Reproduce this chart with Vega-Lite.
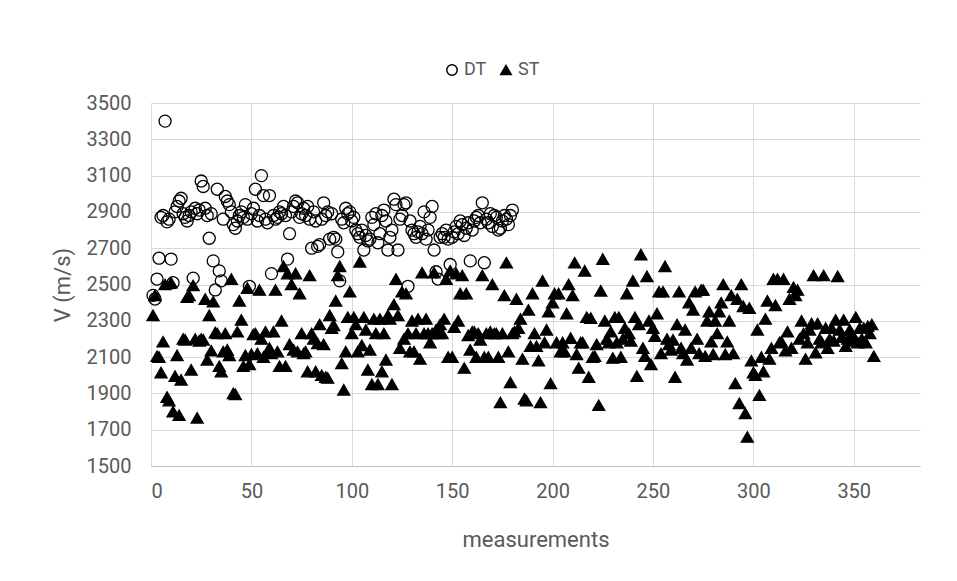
{
  "$schema": "https://vega.github.io/schema/vega-lite/v6.json",
  "width": 769,
  "height": 363,
  "autosize": {"type": "none"},
  "padding": {"left": 151, "top": 103, "right": 37, "bottom": 115},
  "background": "white",
  "config": {
    "view": {"stroke": null},
    "font": "Roboto",
    "axis": {"labelFont": "Roboto", "titleFont": "Roboto", "labelColor": "#595959", "titleColor": "#595959", "labelFontSize": 20, "titleFontSize": 22, "titleFontWeight": "normal", "gridColor": "#d9d9d9", "gridWidth": 1, "ticks": false},
    "legend": {"labelFont": "Roboto", "labelFontSize": 18, "labelColor": "#595959"}
  },
  "datasets": {
    "pts": [
{"s":"DT","i":1,"v":2440},{"s":"DT","i":2,"v":2420},{"s":"DT","i":3,"v":2530},{"s":"DT","i":4,"v":2645},{"s":"DT","i":5,"v":2870},{"s":"DT","i":6,"v":2880},{"s":"DT","i":7,"v":3400},{"s":"DT","i":8,"v":2845},{"s":"DT","i":9,"v":2860},{"s":"DT","i":10,"v":2640},
{"s":"DT","i":11,"v":2510},{"s":"DT","i":12,"v":2900},{"s":"DT","i":13,"v":2930},{"s":"DT","i":14,"v":2960},{"s":"DT","i":15,"v":2975},{"s":"DT","i":16,"v":2890},{"s":"DT","i":17,"v":2870},{"s":"DT","i":18,"v":2850},{"s":"DT","i":19,"v":2880},{"s":"DT","i":20,"v":2900},
{"s":"DT","i":21,"v":2535},{"s":"DT","i":22,"v":2920},{"s":"DT","i":23,"v":2890},{"s":"DT","i":24,"v":2910},{"s":"DT","i":25,"v":3070},{"s":"DT","i":26,"v":3040},{"s":"DT","i":27,"v":2920},{"s":"DT","i":28,"v":2880},{"s":"DT","i":29,"v":2755},{"s":"DT","i":30,"v":2890},
{"s":"DT","i":31,"v":2630},{"s":"DT","i":32,"v":2470},{"s":"DT","i":33,"v":3025},{"s":"DT","i":34,"v":2575},{"s":"DT","i":35,"v":2520},{"s":"DT","i":36,"v":2860},{"s":"DT","i":37,"v":2985},{"s":"DT","i":38,"v":2960},{"s":"DT","i":39,"v":2940},{"s":"DT","i":40,"v":2900},
{"s":"DT","i":41,"v":2830},{"s":"DT","i":42,"v":2810},{"s":"DT","i":43,"v":2850},{"s":"DT","i":44,"v":2880},{"s":"DT","i":45,"v":2900},{"s":"DT","i":46,"v":2870},{"s":"DT","i":47,"v":2940},{"s":"DT","i":48,"v":2860},{"s":"DT","i":49,"v":2490},{"s":"DT","i":50,"v":2890},
{"s":"DT","i":51,"v":2920},{"s":"DT","i":52,"v":3025},{"s":"DT","i":53,"v":2850},{"s":"DT","i":54,"v":2880},{"s":"DT","i":55,"v":3100},{"s":"DT","i":56,"v":2990},{"s":"DT","i":57,"v":2860},{"s":"DT","i":58,"v":2840},{"s":"DT","i":59,"v":2990},{"s":"DT","i":60,"v":2560},
{"s":"DT","i":61,"v":2880},{"s":"DT","i":62,"v":2860},{"s":"DT","i":63,"v":2870},{"s":"DT","i":64,"v":2900},{"s":"DT","i":65,"v":2890},{"s":"DT","i":66,"v":2930},{"s":"DT","i":67,"v":2880},{"s":"DT","i":68,"v":2640},{"s":"DT","i":69,"v":2780},{"s":"DT","i":70,"v":2900},
{"s":"DT","i":71,"v":2930},{"s":"DT","i":72,"v":2960},{"s":"DT","i":73,"v":2950},{"s":"DT","i":74,"v":2870},{"s":"DT","i":75,"v":2890},{"s":"DT","i":76,"v":2920},{"s":"DT","i":77,"v":2880},{"s":"DT","i":78,"v":2930},{"s":"DT","i":79,"v":2860},{"s":"DT","i":80,"v":2700},
{"s":"DT","i":81,"v":2900},{"s":"DT","i":82,"v":2850},{"s":"DT","i":83,"v":2710},{"s":"DT","i":84,"v":2720},{"s":"DT","i":85,"v":2860},{"s":"DT","i":86,"v":2950},{"s":"DT","i":87,"v":2880},{"s":"DT","i":88,"v":2900},{"s":"DT","i":89,"v":2750},{"s":"DT","i":90,"v":2890},
{"s":"DT","i":91,"v":2760},{"s":"DT","i":92,"v":2750},{"s":"DT","i":93,"v":2680},{"s":"DT","i":94,"v":2520},{"s":"DT","i":95,"v":2860},{"s":"DT","i":96,"v":2840},{"s":"DT","i":97,"v":2920},{"s":"DT","i":98,"v":2890},{"s":"DT","i":99,"v":2900},{"s":"DT","i":100,"v":2850},
{"s":"DT","i":101,"v":2870},{"s":"DT","i":102,"v":2800},{"s":"DT","i":103,"v":2780},{"s":"DT","i":104,"v":2760},{"s":"DT","i":105,"v":2800},{"s":"DT","i":106,"v":2690},{"s":"DT","i":107,"v":2770},{"s":"DT","i":108,"v":2740},{"s":"DT","i":109,"v":2750},{"s":"DT","i":110,"v":2870},
{"s":"DT","i":111,"v":2830},{"s":"DT","i":112,"v":2890},{"s":"DT","i":113,"v":2730},{"s":"DT","i":114,"v":2780},{"s":"DT","i":115,"v":2880},{"s":"DT","i":116,"v":2910},{"s":"DT","i":117,"v":2850},{"s":"DT","i":118,"v":2690},{"s":"DT","i":119,"v":2760},{"s":"DT","i":120,"v":2800},
{"s":"DT","i":121,"v":2970},{"s":"DT","i":122,"v":2940},{"s":"DT","i":123,"v":2690},{"s":"DT","i":124,"v":2860},{"s":"DT","i":125,"v":2880},{"s":"DT","i":126,"v":2940},{"s":"DT","i":127,"v":2950},{"s":"DT","i":128,"v":2490},{"s":"DT","i":129,"v":2850},{"s":"DT","i":130,"v":2800},
{"s":"DT","i":131,"v":2780},{"s":"DT","i":132,"v":2760},{"s":"DT","i":133,"v":2790},{"s":"DT","i":134,"v":2820},{"s":"DT","i":135,"v":2780},{"s":"DT","i":136,"v":2900},{"s":"DT","i":137,"v":2750},{"s":"DT","i":138,"v":2800},{"s":"DT","i":139,"v":2870},{"s":"DT","i":140,"v":2930},
{"s":"DT","i":141,"v":2690},{"s":"DT","i":142,"v":2570},{"s":"DT","i":143,"v":2530},{"s":"DT","i":144,"v":2760},{"s":"DT","i":145,"v":2780},{"s":"DT","i":146,"v":2760},{"s":"DT","i":147,"v":2800},{"s":"DT","i":148,"v":2750},{"s":"DT","i":149,"v":2610},{"s":"DT","i":150,"v":2760},
{"s":"DT","i":151,"v":2790},{"s":"DT","i":152,"v":2820},{"s":"DT","i":153,"v":2780},{"s":"DT","i":154,"v":2850},{"s":"DT","i":155,"v":2830},{"s":"DT","i":156,"v":2770},{"s":"DT","i":157,"v":2810},{"s":"DT","i":158,"v":2840},{"s":"DT","i":159,"v":2630},{"s":"DT","i":160,"v":2800},
{"s":"DT","i":161,"v":2850},{"s":"DT","i":162,"v":2870},{"s":"DT","i":163,"v":2880},{"s":"DT","i":164,"v":2840},{"s":"DT","i":165,"v":2950},{"s":"DT","i":166,"v":2620},{"s":"DT","i":167,"v":2860},{"s":"DT","i":168,"v":2840},{"s":"DT","i":169,"v":2890},{"s":"DT","i":170,"v":2820},
{"s":"DT","i":171,"v":2880},{"s":"DT","i":172,"v":2870},{"s":"DT","i":173,"v":2800},{"s":"DT","i":174,"v":2810},{"s":"DT","i":175,"v":2850},{"s":"DT","i":176,"v":2880},{"s":"DT","i":177,"v":2860},{"s":"DT","i":178,"v":2830},{"s":"DT","i":179,"v":2880},{"s":"DT","i":180,"v":2910},
{"s":"ST","i":1,"v":2330},{"s":"ST","i":2,"v":2440},{"s":"ST","i":3,"v":2105},{"s":"ST","i":4,"v":2100},{"s":"ST","i":5,"v":2015},{"s":"ST","i":6,"v":2185},{"s":"ST","i":7,"v":2500},{"s":"ST","i":8,"v":1880},{"s":"ST","i":9,"v":1860},{"s":"ST","i":10,"v":2510},
{"s":"ST","i":11,"v":1800},{"s":"ST","i":12,"v":1995},{"s":"ST","i":13,"v":2110},{"s":"ST","i":14,"v":1780},{"s":"ST","i":15,"v":1975},{"s":"ST","i":16,"v":2200},{"s":"ST","i":17,"v":2195},{"s":"ST","i":18,"v":2430},{"s":"ST","i":19,"v":2440},{"s":"ST","i":20,"v":2030},
{"s":"ST","i":21,"v":2495},{"s":"ST","i":22,"v":2200},{"s":"ST","i":23,"v":1765},{"s":"ST","i":24,"v":2190},{"s":"ST","i":25,"v":2200},{"s":"ST","i":26,"v":2195},{"s":"ST","i":27,"v":2420},{"s":"ST","i":28,"v":2085},{"s":"ST","i":29,"v":2330},{"s":"ST","i":30,"v":2135},
{"s":"ST","i":31,"v":2405},{"s":"ST","i":32,"v":2235},{"s":"ST","i":33,"v":2230},{"s":"ST","i":34,"v":2050},{"s":"ST","i":35,"v":2020},{"s":"ST","i":36,"v":2130},{"s":"ST","i":37,"v":2230},{"s":"ST","i":38,"v":2140},{"s":"ST","i":39,"v":2110},{"s":"ST","i":40,"v":2530},
{"s":"ST","i":41,"v":1900},{"s":"ST","i":42,"v":1895},{"s":"ST","i":43,"v":2240},{"s":"ST","i":44,"v":2410},{"s":"ST","i":45,"v":2305},{"s":"ST","i":46,"v":2050},{"s":"ST","i":47,"v":2110},{"s":"ST","i":48,"v":2480},{"s":"ST","i":49,"v":2060},{"s":"ST","i":50,"v":2115},
{"s":"ST","i":51,"v":2225},{"s":"ST","i":52,"v":2230},{"s":"ST","i":53,"v":2120},{"s":"ST","i":54,"v":2470},{"s":"ST","i":55,"v":2200},{"s":"ST","i":56,"v":2100},{"s":"ST","i":57,"v":2240},{"s":"ST","i":58,"v":2130},{"s":"ST","i":59,"v":2150},{"s":"ST","i":60,"v":2120},
{"s":"ST","i":61,"v":2240},{"s":"ST","i":62,"v":2470},{"s":"ST","i":63,"v":2130},{"s":"ST","i":64,"v":2050},{"s":"ST","i":65,"v":2300},{"s":"ST","i":66,"v":2600},{"s":"ST","i":67,"v":2050},{"s":"ST","i":68,"v":2560},{"s":"ST","i":69,"v":2170},{"s":"ST","i":70,"v":2500},
{"s":"ST","i":71,"v":2140},{"s":"ST","i":72,"v":2560},{"s":"ST","i":73,"v":2130},{"s":"ST","i":74,"v":2450},{"s":"ST","i":75,"v":2230},{"s":"ST","i":76,"v":2120},{"s":"ST","i":77,"v":2130},{"s":"ST","i":78,"v":2020},{"s":"ST","i":79,"v":2550},{"s":"ST","i":80,"v":2230},
{"s":"ST","i":81,"v":2200},{"s":"ST","i":82,"v":2020},{"s":"ST","i":83,"v":2175},{"s":"ST","i":84,"v":2280},{"s":"ST","i":85,"v":2000},{"s":"ST","i":86,"v":2170},{"s":"ST","i":87,"v":1990},{"s":"ST","i":88,"v":1985},{"s":"ST","i":89,"v":2330},{"s":"ST","i":90,"v":2260},
{"s":"ST","i":91,"v":2275},{"s":"ST","i":92,"v":2410},{"s":"ST","i":93,"v":2550},{"s":"ST","i":94,"v":2600},{"s":"ST","i":95,"v":2065},{"s":"ST","i":96,"v":1920},{"s":"ST","i":97,"v":2130},{"s":"ST","i":98,"v":2320},{"s":"ST","i":99,"v":2460},{"s":"ST","i":100,"v":2230},
{"s":"ST","i":101,"v":2320},{"s":"ST","i":102,"v":2280},{"s":"ST","i":103,"v":2130},{"s":"ST","i":104,"v":2625},{"s":"ST","i":105,"v":2165},{"s":"ST","i":106,"v":2320},{"s":"ST","i":107,"v":2250},{"s":"ST","i":108,"v":2030},{"s":"ST","i":109,"v":2140},{"s":"ST","i":110,"v":1950},
{"s":"ST","i":111,"v":2310},{"s":"ST","i":112,"v":2230},{"s":"ST","i":113,"v":1950},{"s":"ST","i":114,"v":2310},{"s":"ST","i":115,"v":2020},{"s":"ST","i":116,"v":2230},{"s":"ST","i":117,"v":2085},{"s":"ST","i":118,"v":2330},{"s":"ST","i":119,"v":2310},{"s":"ST","i":120,"v":1950},
{"s":"ST","i":121,"v":2390},{"s":"ST","i":122,"v":2530},{"s":"ST","i":123,"v":2330},{"s":"ST","i":124,"v":2150},{"s":"ST","i":125,"v":2460},{"s":"ST","i":126,"v":2200},{"s":"ST","i":127,"v":2450},{"s":"ST","i":128,"v":2230},{"s":"ST","i":129,"v":2130},{"s":"ST","i":130,"v":2300},
{"s":"ST","i":131,"v":2130},{"s":"ST","i":132,"v":2230},{"s":"ST","i":133,"v":2310},{"s":"ST","i":134,"v":2090},{"s":"ST","i":135,"v":2565},{"s":"ST","i":136,"v":2230},{"s":"ST","i":137,"v":2310},{"s":"ST","i":138,"v":2230},{"s":"ST","i":139,"v":2180},{"s":"ST","i":140,"v":2230},
{"s":"ST","i":141,"v":2565},{"s":"ST","i":142,"v":2250},{"s":"ST","i":143,"v":2230},{"s":"ST","i":144,"v":2280},{"s":"ST","i":145,"v":2230},{"s":"ST","i":146,"v":2310},{"s":"ST","i":147,"v":2530},{"s":"ST","i":148,"v":2100},{"s":"ST","i":149,"v":2575},{"s":"ST","i":150,"v":2100},
{"s":"ST","i":151,"v":2265},{"s":"ST","i":152,"v":2560},{"s":"ST","i":153,"v":2300},{"s":"ST","i":154,"v":2450},{"s":"ST","i":155,"v":2550},{"s":"ST","i":156,"v":2040},{"s":"ST","i":157,"v":2450},{"s":"ST","i":158,"v":2220},{"s":"ST","i":159,"v":2140},{"s":"ST","i":160,"v":2240},
{"s":"ST","i":161,"v":2240},{"s":"ST","i":162,"v":2100},{"s":"ST","i":163,"v":2230},{"s":"ST","i":164,"v":2195},{"s":"ST","i":165,"v":2550},{"s":"ST","i":166,"v":2100},{"s":"ST","i":167,"v":2230},{"s":"ST","i":168,"v":2100},{"s":"ST","i":169,"v":2240},{"s":"ST","i":170,"v":2500},
{"s":"ST","i":171,"v":2230},{"s":"ST","i":172,"v":2230},{"s":"ST","i":173,"v":2100},{"s":"ST","i":174,"v":1850},{"s":"ST","i":175,"v":2230},{"s":"ST","i":176,"v":2440},{"s":"ST","i":177,"v":2620},{"s":"ST","i":178,"v":2130},{"s":"ST","i":179,"v":1960},{"s":"ST","i":180,"v":2230},
{"s":"ST","i":181,"v":2240},{"s":"ST","i":182,"v":2420},{"s":"ST","i":183,"v":2260},{"s":"ST","i":184,"v":2310},{"s":"ST","i":185,"v":2090},{"s":"ST","i":186,"v":1870},{"s":"ST","i":187,"v":1860},{"s":"ST","i":188,"v":2360},{"s":"ST","i":189,"v":2160},{"s":"ST","i":190,"v":2450},
{"s":"ST","i":191,"v":2230},{"s":"ST","i":192,"v":2160},{"s":"ST","i":193,"v":2080},{"s":"ST","i":194,"v":1850},{"s":"ST","i":195,"v":2520},{"s":"ST","i":196,"v":2180},{"s":"ST","i":197,"v":2250},{"s":"ST","i":198,"v":2350},{"s":"ST","i":199,"v":1955},{"s":"ST","i":200,"v":2400},
{"s":"ST","i":201,"v":2450},{"s":"ST","i":202,"v":2180},{"s":"ST","i":203,"v":2450},{"s":"ST","i":204,"v":2130},{"s":"ST","i":205,"v":2180},{"s":"ST","i":206,"v":2130},{"s":"ST","i":207,"v":2340},{"s":"ST","i":208,"v":2500},{"s":"ST","i":209,"v":2205},{"s":"ST","i":210,"v":2440},
{"s":"ST","i":211,"v":2620},{"s":"ST","i":212,"v":2115},{"s":"ST","i":213,"v":2040},{"s":"ST","i":214,"v":2180},{"s":"ST","i":215,"v":2180},{"s":"ST","i":216,"v":2575},{"s":"ST","i":217,"v":2320},{"s":"ST","i":218,"v":1990},{"s":"ST","i":219,"v":2315},{"s":"ST","i":220,"v":2100},
{"s":"ST","i":221,"v":2105},{"s":"ST","i":222,"v":2170},{"s":"ST","i":223,"v":1835},{"s":"ST","i":224,"v":2465},{"s":"ST","i":225,"v":2640},{"s":"ST","i":226,"v":2300},{"s":"ST","i":227,"v":2200},{"s":"ST","i":228,"v":2180},{"s":"ST","i":229,"v":2240},{"s":"ST","i":230,"v":2095},
{"s":"ST","i":231,"v":2320},{"s":"ST","i":232,"v":2180},{"s":"ST","i":233,"v":2320},{"s":"ST","i":234,"v":2100},{"s":"ST","i":235,"v":2200},{"s":"ST","i":236,"v":2260},{"s":"ST","i":237,"v":2450},{"s":"ST","i":238,"v":2230},{"s":"ST","i":239,"v":2190},{"s":"ST","i":240,"v":2520},
{"s":"ST","i":241,"v":2320},{"s":"ST","i":242,"v":1995},{"s":"ST","i":243,"v":2280},{"s":"ST","i":244,"v":2665},{"s":"ST","i":245,"v":2150},{"s":"ST","i":246,"v":2105},{"s":"ST","i":247,"v":2545},{"s":"ST","i":248,"v":2300},{"s":"ST","i":249,"v":2060},{"s":"ST","i":250,"v":2260},
{"s":"ST","i":251,"v":2215},{"s":"ST","i":252,"v":2340},{"s":"ST","i":253,"v":2460},{"s":"ST","i":254,"v":2120},{"s":"ST","i":255,"v":2460},{"s":"ST","i":256,"v":2600},{"s":"ST","i":257,"v":2200},{"s":"ST","i":258,"v":2170},{"s":"ST","i":259,"v":2140},{"s":"ST","i":260,"v":2195},
{"s":"ST","i":261,"v":1990},{"s":"ST","i":262,"v":2280},{"s":"ST","i":263,"v":2460},{"s":"ST","i":264,"v":2150},{"s":"ST","i":265,"v":2120},{"s":"ST","i":266,"v":2250},{"s":"ST","i":267,"v":2085},{"s":"ST","i":268,"v":2400},{"s":"ST","i":269,"v":2150},{"s":"ST","i":270,"v":2360},
{"s":"ST","i":271,"v":2460},{"s":"ST","i":272,"v":2200},{"s":"ST","i":273,"v":2120},{"s":"ST","i":274,"v":2470},{"s":"ST","i":275,"v":2470},{"s":"ST","i":276,"v":2105},{"s":"ST","i":277,"v":2300},{"s":"ST","i":278,"v":2350},{"s":"ST","i":279,"v":2185},{"s":"ST","i":280,"v":2115},
{"s":"ST","i":281,"v":2300},{"s":"ST","i":282,"v":2230},{"s":"ST","i":283,"v":2350},{"s":"ST","i":284,"v":2400},{"s":"ST","i":285,"v":2500},{"s":"ST","i":286,"v":2115},{"s":"ST","i":287,"v":2185},{"s":"ST","i":288,"v":2300},{"s":"ST","i":289,"v":2440},{"s":"ST","i":290,"v":2120},
{"s":"ST","i":291,"v":1955},{"s":"ST","i":292,"v":2420},{"s":"ST","i":293,"v":1845},{"s":"ST","i":294,"v":2500},{"s":"ST","i":295,"v":2380},{"s":"ST","i":296,"v":1790},{"s":"ST","i":297,"v":1660},{"s":"ST","i":298,"v":2370},{"s":"ST","i":299,"v":2080},{"s":"ST","i":300,"v":2015},
{"s":"ST","i":301,"v":2000},{"s":"ST","i":302,"v":2250},{"s":"ST","i":303,"v":1890},{"s":"ST","i":304,"v":2100},{"s":"ST","i":305,"v":2020},{"s":"ST","i":306,"v":2310},{"s":"ST","i":307,"v":2410},{"s":"ST","i":308,"v":2090},{"s":"ST","i":309,"v":2150},{"s":"ST","i":310,"v":2530},
{"s":"ST","i":311,"v":2385},{"s":"ST","i":312,"v":2530},{"s":"ST","i":313,"v":2180},{"s":"ST","i":314,"v":2185},{"s":"ST","i":315,"v":2530},{"s":"ST","i":316,"v":2135},{"s":"ST","i":317,"v":2240},{"s":"ST","i":318,"v":2420},{"s":"ST","i":319,"v":2150},{"s":"ST","i":320,"v":2485},
{"s":"ST","i":321,"v":2440},{"s":"ST","i":322,"v":2470},{"s":"ST","i":323,"v":2200},{"s":"ST","i":324,"v":2300},{"s":"ST","i":325,"v":2230},{"s":"ST","i":326,"v":2090},{"s":"ST","i":327,"v":2180},{"s":"ST","i":328,"v":2250},{"s":"ST","i":329,"v":2285},{"s":"ST","i":330,"v":2550},
{"s":"ST","i":331,"v":2125},{"s":"ST","i":332,"v":2285},{"s":"ST","i":333,"v":2200},{"s":"ST","i":334,"v":2180},{"s":"ST","i":335,"v":2550},{"s":"ST","i":336,"v":2260},{"s":"ST","i":337,"v":2150},{"s":"ST","i":338,"v":2200},{"s":"ST","i":339,"v":2260},{"s":"ST","i":340,"v":2190},
{"s":"ST","i":341,"v":2305},{"s":"ST","i":342,"v":2545},{"s":"ST","i":343,"v":2250},{"s":"ST","i":344,"v":2210},{"s":"ST","i":345,"v":2305},{"s":"ST","i":346,"v":2160},{"s":"ST","i":347,"v":2200},{"s":"ST","i":348,"v":2250},{"s":"ST","i":349,"v":2230},{"s":"ST","i":350,"v":2190},
{"s":"ST","i":351,"v":2320},{"s":"ST","i":352,"v":2180},{"s":"ST","i":353,"v":2260},{"s":"ST","i":354,"v":2200},{"s":"ST","i":355,"v":2260},{"s":"ST","i":356,"v":2180},{"s":"ST","i":357,"v":2270},{"s":"ST","i":358,"v":2230},{"s":"ST","i":359,"v":2280},{"s":"ST","i":360,"v":2105}
    ]
  },
  "data": {"name": "pts"},
  "mark": {"type": "point", "stroke": "#000000", "strokeWidth": 1.3, "size": 145, "opacity": 1, "fillOpacity": 1},
  "encoding": {
    "x": {"field": "i", "type": "quantitative", "scale": {"domain": [0, 383], "nice": false, "zero": false},
      "axis": {"values": [0, 50, 100, 150, 200, 250, 300, 350], "title": "measurements", "labelPadding": 15, "titlePadding": 28, "domainColor": "#bfbfbf", "grid": true}},
    "y": {"field": "v", "type": "quantitative", "scale": {"domain": [1500, 3500], "nice": false, "zero": false},
      "axis": {"values": [1500, 1700, 1900, 2100, 2300, 2500, 2700, 2900, 3100, 3300, 3500], "format": "d", "title": "V (m/s)", "labelPadding": 20, "titlePadding": 12, "domain": false, "grid": true}},
    "shape": {"field": "s", "type": "nominal", "scale": {"domain": ["DT", "ST"], "range": ["circle", "triangle-up"]},
      "legend": {"title": null, "orient": "none", "direction": "horizontal", "legendX": 292, "legendY": -42, "symbolSize": 110, "columnPadding": 10, "labelOffset": 3,
        "encode": {"symbols": {"update": {"stroke": {"value": "#000000"}, "strokeWidth": {"value": 1.3}}}}}},
    "fill": {"field": "s", "type": "nominal", "scale": {"domain": ["DT", "ST"], "range": ["transparent", "#000000"]},
      "legend": {"title": null, "orient": "none", "direction": "horizontal", "legendX": 292, "legendY": -42, "symbolSize": 110, "columnPadding": 10, "labelOffset": 3,
        "encode": {"symbols": {"update": {"stroke": {"value": "#000000"}, "strokeWidth": {"value": 1.3}}}}}}
  }
}
